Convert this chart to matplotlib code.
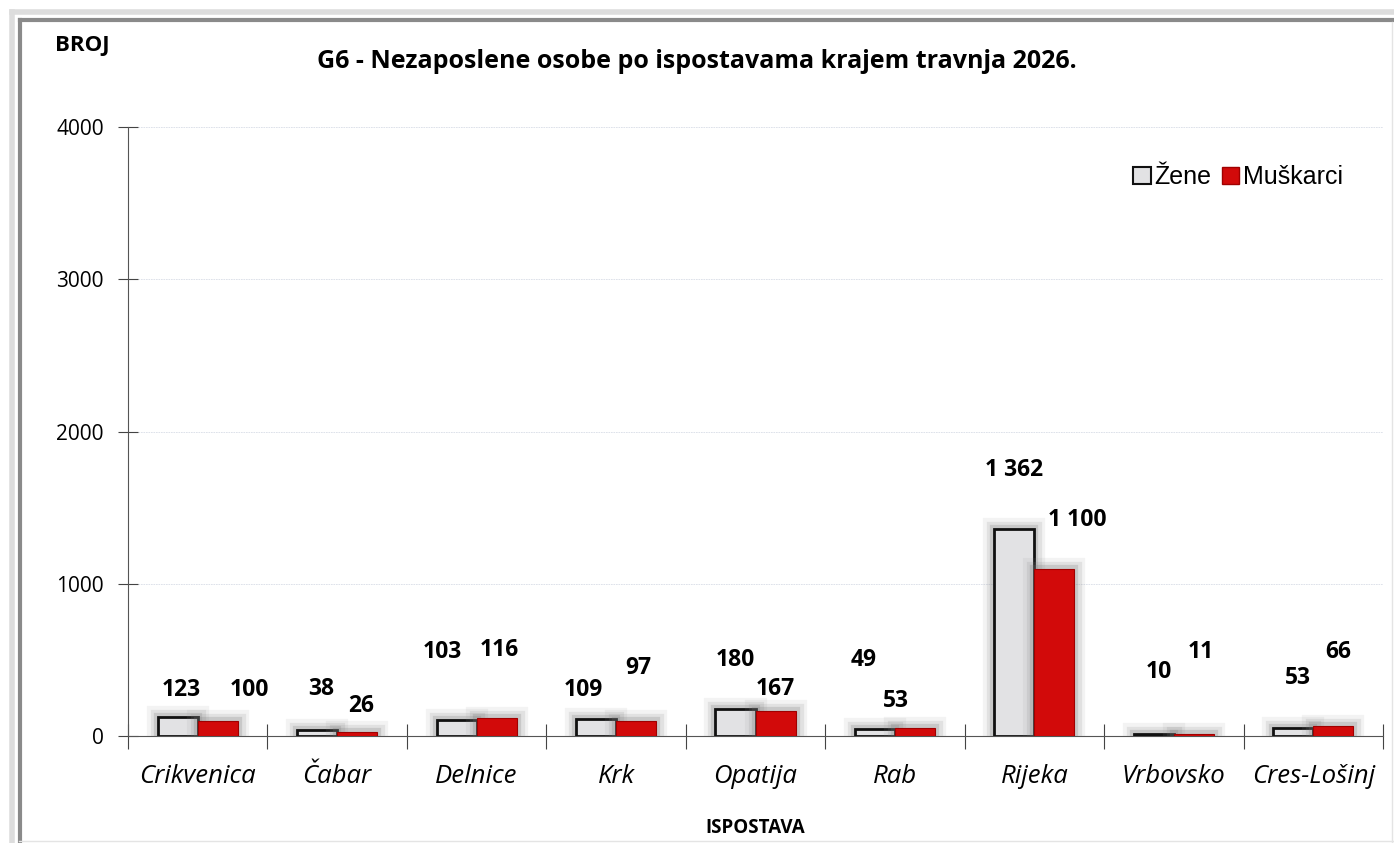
import matplotlib.pyplot as plt
import matplotlib.patheffects as pe
from matplotlib.lines import Line2D
from matplotlib.patches import Patch
import numpy as np

# podaci
ispostave = ['Crikvenica', 'Čabar', 'Delnice', 'Krk', 'Opatija', 'Rab', 'Rijeka', 'Vrbovsko', 'Cres-Lošinj']
zene = [123, 38, 103, 109, 180, 49, 1362, 10, 53]
muskarci = [100, 26, 116, 97, 167, 53, 1100, 11, 66]
y_ticks = [0, 1000, 2000, 3000, 4000]

# ručno pomaknute oznake (kao u originalu)
zene_lbl_dx = [-0.12, -0.116, -0.248, -0.236, -0.146, -0.227, -0.144, -0.111, -0.107]
zene_lbl_y = [302, 309, 552, 302, 499, 499, 1747, 420, 381]
musk_lbl_dx = [0.368, 0.171, 0.161, 0.159, 0.141, 0.009, 0.308, 0.19, 0.18]
musk_lbl_y = [302, 197, 565, 447, 309, 230, 1419, 552, 552]

fig = plt.figure(figsize=(13.94, 8.43), dpi=100)
ax = fig.add_axes([128/1394, 107/843, 1255/1394, 609/843])

x = np.arange(len(ispostave))
w = 0.287

b1 = ax.bar(x - w/2, zene, w, color='#e2e2e4', edgecolor='#111111', linewidth=2, zorder=3)
b2 = ax.bar(x + w/2, muskarci, w, color='#d20a0a', edgecolor='#a00000', linewidth=0.8, zorder=3)
# mekana sjena oko stupaca
for b in list(b1) + list(b2):
    b.set_path_effects([pe.Stroke(linewidth=16, foreground='#909090', alpha=0.10),
                        pe.Stroke(linewidth=11, foreground='#808080', alpha=0.15),
                        pe.Stroke(linewidth=6, foreground='#707070', alpha=0.22),
                        pe.Normal()])

def fmt(v):
    return f'{v:,}'.replace(',', ' ')

lbl_font = dict(fontsize=16.5, fontweight='bold', family='Open Sans', ha='center', va='center')
for i in range(len(ispostave)):
    ax.text(x[i] + zene_lbl_dx[i], zene_lbl_y[i], fmt(zene[i]), **lbl_font)
    ax.text(x[i] + musk_lbl_dx[i], musk_lbl_y[i], fmt(muskarci[i]), **lbl_font)

ax.set_xlim(-0.5, len(ispostave) - 0.5)
ax.set_ylim(0, 4000)
ax.set_yticks(y_ticks)
ax.set_yticklabels([str(t) for t in y_ticks], fontsize=15, family='Open Sans')
ax.yaxis.grid(True, color='#d8dde6', linewidth=0.6, linestyle=(0, (2, 1)))
ax.set_axisbelow(True)

ax.set_xticks(np.arange(-0.5, len(ispostave), 1.0))
ax.set_xticklabels([])
ax.set_xticks(x, minor=True)
ax.set_xticklabels(ispostave, minor=True, fontsize=18.5, style='italic', family='Open Sans')
ax.tick_params(axis='x', which='minor', length=0, pad=20)
ax.tick_params(axis='x', which='major', direction='inout', length=18, color='#444444')
ax.tick_params(axis='y', direction='inout', length=15, color='#444444', pad=10)

for s in ['top', 'right']:
    ax.spines[s].set_visible(False)
ax.spines['left'].set_color('#555555')
ax.spines['bottom'].set_color('#555555')

fig.text(0.5 * (317 + 1077) / 1394, 1 - 62/843, 'G6 - Nezaposlene osobe po ispostavama krajem travnja 2026.',
         fontsize=18, fontweight='bold', family='Open Sans', ha='center', va='center')
fig.text(82/1394, 1 - 45/843, 'BROJ', fontsize=16, fontweight='bold', family='Open Sans', ha='center', va='center')
fig.text(755/1394, 1 - 828/843, 'ISPOSTAVA', fontsize=13.5, fontweight='bold', family='Open Sans', ha='center', va='center')

handles = [Patch(facecolor='#e2e2e4', edgecolor='#111111', linewidth=1.5), Patch(facecolor='#d20a0a', edgecolor='#a00000')]
fig.legend(handles, ['Žene', 'Muškarci'], loc='center', bbox_to_anchor=(1238/1394, 1 - 177/843), ncol=2,
           frameon=False, handlelength=0.7, handleheight=0.7, handletextpad=0.15, columnspacing=0.4,
           prop={'family': 'Liberation Sans', 'size': 18})

# okvir
fig.add_artist(Line2D([12/1394, 12/1394], [0, 1 - 12/843], color='#dddddd', linewidth=4))
fig.add_artist(Line2D([12/1394, 1], [1 - 12/843, 1 - 12/843], color='#dddddd', linewidth=4))
fig.add_artist(Line2D([19.5/1394, 19.5/1394], [0, 1 - 20/843], color='#8a8a8a', linewidth=3))
fig.add_artist(Line2D([19.5/1394, 1], [1 - 20/843, 1 - 20/843], color='#8a8a8a', linewidth=3))
fig.add_artist(Line2D([1392/1394, 1392/1394], [0, 1 - 22/843], color='#e4e4e4', linewidth=1))
fig.add_artist(Line2D([19/1394, 1], [2/843, 2/843], color='#e4e4e4', linewidth=1))

plt.savefig('out.png', dpi=100)
